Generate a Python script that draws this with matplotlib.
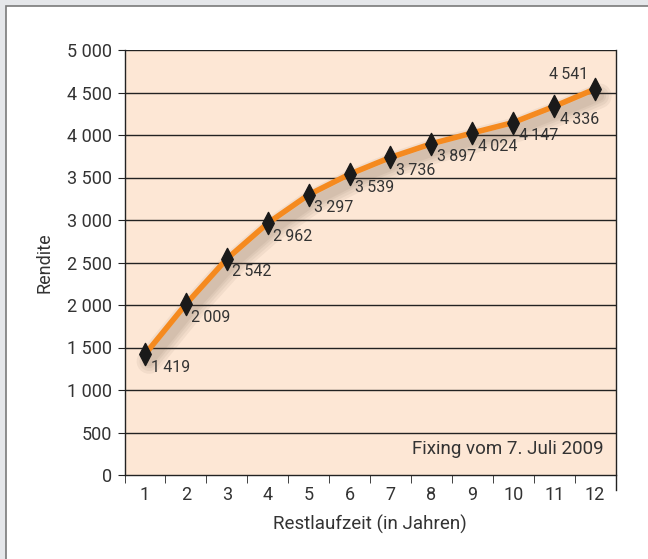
import matplotlib
matplotlib.use("Agg")
import matplotlib.pyplot as plt
import matplotlib.patches as patches
import matplotlib.patheffects as pe
from matplotlib.path import Path
from matplotlib.ticker import FixedLocator, NullFormatter

plt.rcParams['font.family'] = ['Roboto', 'DejaVu Sans']

# Data
years = [1, 2, 3, 4, 5, 6, 7, 8, 9, 10, 11, 12]
rendite = [1419, 2009, 2542, 2962, 3297, 3539, 3736, 3897, 4024, 4147, 4336, 4541]
y_ticks = [0, 500, 1000, 1500, 2000, 2500, 3000, 3500, 4000, 4500, 5000]
y_tick_labels = ['0', '500', '1 000', '1 500', '2 000', '2 500', '3 000',
                 '3 500', '4 000', '4 500', '5 000']
text_col = '#333333'

fig = plt.figure(figsize=(6.48, 5.59), dpi=100)
fig.patch.set_facecolor('#e5e7ea')
# white panel with grey border
panel = patches.Rectangle((6 / 648, -0.05), 1.1, 1 - 6 / 559 + 0.05,
                          transform=fig.transFigure, facecolor='white',
                          edgecolor='#7a7a7a', linewidth=1.2, zorder=-10)
fig.patches.append(panel)

ax = fig.add_axes([124.5 / 648, 1 - 475 / 559, 491 / 648, 425 / 559])
ax.set_facecolor('#fde7d5')
ax.set_xlim(0.5, 12.5)
ax.set_ylim(0, 5000)

for y in y_ticks[1:]:
    ax.axhline(y, color='#222222', linewidth=1.0, zorder=1)

# soft shadow built from a few wide, faint strokes
shadow = [pe.SimpleLineShadow(offset=(3, -5), shadow_color='#5a4636', alpha=0.065, linewidth=w)
          for w in (18, 14, 10, 7)]
ax.plot(years, rendite, color='#f58a1f', linewidth=4, zorder=3,
        solid_capstyle='round', solid_joinstyle='round',
        path_effects=shadow + [pe.Normal()])

diamond = Path([(0, 1), (0.52, 0), (0, -1), (-0.52, 0), (0, 1)],
               [Path.MOVETO, Path.LINETO, Path.LINETO, Path.LINETO, Path.CLOSEPOLY])
ax.plot(years, rendite, linestyle='none', marker=diamond, markersize=16,
        markerfacecolor='#1a1a1a', markeredgecolor='#1a1a1a', zorder=4)

for i, (x, v) in enumerate(zip(years, rendite)):
    s = f"{v:,}".replace(',', '\u2009')
    if i == len(years) - 1:
        ax.annotate(s, (x, v), xytext=(-5, 5), textcoords='offset points',
                    ha='right', va='bottom', fontsize=11.5, color=text_col, zorder=5)
    else:
        ax.annotate(s, (x, v), xytext=(4, -4), textcoords='offset points',
                    ha='left', va='top', fontsize=11.5, color=text_col, zorder=5)

ax.text(0.975, 0.06, 'Fixing vom 7. Juli 2009', transform=ax.transAxes,
        ha='right', va='center', fontsize=13.5, color=text_col)

# axes styling
ax.spines['top'].set_visible(False)
for side in ['left', 'bottom', 'right']:
    ax.spines[side].set_color('#222222')
    ax.spines[side].set_linewidth(1.0)
ax.spines['right'].set_bounds(-180, 5000)
ax.spines['right'].set_clip_on(False)

ax.set_yticks(y_ticks)
ax.set_yticklabels(y_tick_labels)
ax.set_xticks(years)
ax.set_xticklabels([str(y) for y in years])
ax.xaxis.set_minor_locator(FixedLocator([x + 0.5 for x in range(0, 12)]))
ax.xaxis.set_minor_formatter(NullFormatter())
ax.tick_params(axis='x', which='major', length=0, labelsize=13, labelcolor=text_col, pad=8)
ax.tick_params(axis='x', which='minor', length=6, direction='out', color='#222222')
ax.tick_params(axis='y', length=5, direction='out', color='#222222', labelsize=13,
               labelcolor=text_col, pad=4)

ax.set_xlabel('Restlaufzeit (in Jahren)', fontsize=13.5, color=text_col, labelpad=8)
ax.set_ylabel('Rendite', fontsize=13, color=text_col, labelpad=10)

fig.savefig('out.png', dpi=100, facecolor=fig.get_facecolor())
